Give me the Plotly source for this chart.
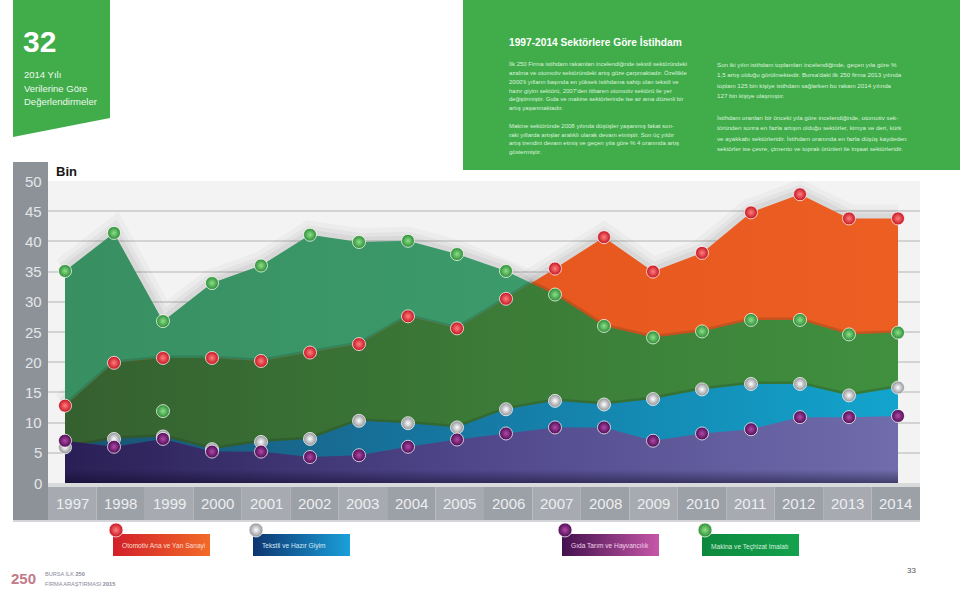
import plotly.graph_objects as go

# ---------------- data ----------------
years = list(range(1997, 2015))
otomotiv = [12.8, 19.9, 20.7, 20.7, 20.2, 21.6, 23.0, 27.6, 25.6, 30.5,
            35.5, 40.7, 35.0, 38.1, 44.8, 47.8, 43.8, 43.8]          # red balls
makina = [35.1, 41.4, 26.8, 33.1, 36.0, 41.1, 39.9, 40.1, 37.9, 35.1,
          31.2, 26.0, 24.1, 25.1, 27.0, 27.0, 24.6, 24.9]            # green balls
tekstil = [5.9, 7.3, 7.7, 5.6, 6.8, 7.3, 10.3, 9.9, 9.2, 12.2,
           13.6, 13.0, 13.9, 15.5, 16.4, 16.4, 14.5, 15.8]            # silver balls
gida = [7.0, 6.0, 7.3, 5.2, 5.2, 4.3, 4.6, 6.0, 7.2, 8.2,
        9.2, 9.2, 7.0, 8.2, 8.9, 10.9, 10.9, 11.1]                   # purple balls
makina_extra_years = [1999]
makina_extra_vals = [11.9]
y_ticks = [0, 5, 10, 15, 20, 25, 30, 35, 40, 45, 50]
legend_labels = ["Otomotiv Ana ve Yan Sanayi", "Tekstil ve Hazır Giyim",
                 "Gıda Tarım ve Hayvancılık", "Makina ve Teçhizat İmalatı"]

title = "1997-2014 Sektörlere Göre İstihdam"
col1 = ["İlk 250 Firma istihdam rakamları incelendiğinde tekstil sektöründeki",
        "azalma ve otomotiv sektöründeki artış göze çarpmaktadır. Özellikle",
        "2000'li yılların başında en yüksek istihdama sahip olan tekstil ve",
        "hazır giyim sektörü, 2007'den itibaren otomotiv sektörü ile yer",
        "değiştirmiştir. Gıda ve makine sektörlerinde ise az ama düzenli bir",
        "artış yaşanmaktadır.",
        "",
        "Makine sektöründe 2008 yılında düşüşler yaşanmış fakat son-",
        "raki yıllarda artışlar aralıklı olarak devam etmiştir. Son üç yıldır",
        "artış trendini devam etmiş ve geçen yıla göre % 4 oranında artış",
        "göstermiştir."]
col2 = ["Son iki yılın istihdam toplamları incelendiğinde, geçen yıla göre %",
        "1,5 artış olduğu görülmektedir. Bursa'daki ilk 250 firma 2013 yılında",
        "toplam 125 bin kişiye istihdam sağlarken bu rakam 2014 yılında",
        "127 bin kişiye ulaşmıştır.",
        "",
        "İstihdam oranları bir önceki yıla göre incelendiğinde, otomotiv sek-",
        "töründen sonra en fazla artışın olduğu sektörler, kimya ve deri, kürk",
        "ve ayakkabı sektörleridir. İstihdam oranında en fazla düşüş kaydeden",
        "sektörler ise çevre, çimento ve toprak ürünleri ile inşaat sektörleridir."]

# ---------------- geometry helpers ----------------
W, H = 960, 591
PL, PR, PT, PB = 48, 920, 181, 483
X0 = years[0] - 17 / 49.0
X1 = years[-1] + 22 / 49.0
SANS = "Liberation Sans, Arial, sans-serif"


def px(x):
    return x / W


def py(y):
    return 1 - y / H


def lower_envelope(xs, a, b):
    ox, oy = [], []
    for i in range(len(xs)):
        ox.append(xs[i]); oy.append(min(a[i], b[i]))
        if i < len(xs) - 1:
            d0, d1 = a[i] - b[i], a[i + 1] - b[i + 1]
            if d0 * d1 < 0:
                t = d0 / (d0 - d1)
                ox.append(xs[i] + t * (xs[i + 1] - xs[i]))
                oy.append(a[i] + t * (a[i + 1] - a[i]))
    return ox, oy


fig = go.Figure()

# shadows along top outlines
for series in (makina, otomotiv):
    for w, a in ((28, 0.03), (18, 0.045), (10, 0.055)):
        fig.add_trace(go.Scatter(x=years, y=series, mode="lines",
                                 line=dict(color=f"rgba(40,40,40,{a})", width=w),
                                 hoverinfo="skip", showlegend=False))

# teal area (green series)
fig.add_trace(go.Scatter(x=years, y=makina, mode="lines", fill="tozeroy",
                         line=dict(width=0, color="#3b9a6c"),
                         fillgradient=dict(type="horizontal", start=years[0], stop=years[-1],
                                           colorscale=[[0, "#388f62"], [1, "#3fa472"]]),
                         hoverinfo="skip", showlegend=False))
# orange area (red series)
fig.add_trace(go.Scatter(x=years, y=otomotiv, mode="lines", fill="tozeroy",
                         line=dict(width=0, color="#e8571f"),
                         fillgradient=dict(type="horizontal", start=years[0], stop=years[-1],
                                           colorscale=[[0, "#e0501c"], [1, "#ec5e22"]]),
                         hoverinfo="skip", showlegend=False))
# overlap area (dark green)
ex, ey = lower_envelope(years, otomotiv, makina)
fig.add_trace(go.Scatter(x=ex, y=ey, mode="lines", line=dict(width=5, color="rgba(30,50,30,0.18)"),
                         hoverinfo="skip", showlegend=False))
fig.add_trace(go.Scatter(x=ex, y=ey, mode="lines", fill="tozeroy",
                         line=dict(width=0, color="#3d7a38"),
                         fillgradient=dict(type="horizontal", start=years[0], stop=years[-1],
                                           colorscale=[[0, "#35602f"], [0.5, "#3b7a37"], [1, "#40903f"]]),
                         hoverinfo="skip", showlegend=False))
# blue area (tekstil)
fig.add_trace(go.Scatter(x=years, y=tekstil, mode="lines", line=dict(width=5, color="rgba(20,40,30,0.2)"),
                         hoverinfo="skip", showlegend=False))
fig.add_trace(go.Scatter(x=years, y=tekstil, mode="lines", fill="tozeroy",
                         line=dict(width=0, color="#1577a0"),
                         fillgradient=dict(type="horizontal", start=years[0], stop=years[-1],
                                           colorscale=[[0, "#1b5272"], [0.45, "#1676a0"], [1, "#12a4cd"]]),
                         hoverinfo="skip", showlegend=False))
# purple area (gida)
fig.add_trace(go.Scatter(x=years, y=gida, mode="lines", fill="tozeroy",
                         line=dict(width=0, color="#4f4688"),
                         fillgradient=dict(type="horizontal", start=years[0], stop=years[-1],
                                           colorscale=[[0, "#2a1f55"], [0.45, "#4d4487"], [1, "#706dac"]]),
                         hoverinfo="skip", showlegend=False))
# bottom darkening
fig.add_trace(go.Scatter(x=[years[0], years[-1], years[-1], years[0], years[0]],
                         y=[0, 0, 2.2, 2.2, 0], mode="lines", fill="toself",
                         line=dict(width=0, color="rgba(0,0,0,0)"),
                         fillgradient=dict(type="vertical", start=0, stop=2.2,
                                           colorscale=[[0, "rgba(10,5,30,0.45)"], [1, "rgba(10,5,30,0)"]]),
                         hoverinfo="skip", showlegend=False))

BALLS = {
    "red": ("#c4121f", "#ff8080"),
    "silver": ("#8e9196", "#ffffff"),
    "purple": ("#4c0b52", "#b24aa8"),
    "green": ("#2a8b33", "#8ee08a"),
}


def balls(x, y, key, xa="x", ya="y", size=13):
    edge, center = BALLS[key]
    return go.Scatter(x=x, y=y, mode="markers", xaxis=xa, yaxis=ya,
                      marker=dict(size=size, color=edge,
                                  gradient=dict(type="radial", color=center),
                                  line=dict(color="rgba(255,255,255,0.75)", width=1)),
                      hoverinfo="skip", showlegend=False)


fig.add_trace(balls(years, makina, "green"))
fig.add_trace(balls(makina_extra_years, makina_extra_vals, "green"))
fig.add_trace(balls(years, otomotiv, "red"))
fig.add_trace(balls(years, tekstil, "silver"))
fig.add_trace(balls(years, gida, "purple"))

# ---------------- legend boxes (pixel overlay axis) ----------------
leg_x = [113, 253, 562, 702]
leg_grad = [("#d21f2a", "#f26a28"), ("#0d3570", "#1aa0da"),
            ("#43104e", "#c657a8"), ("#0c883d", "#14a24d")]
leg_txt = ["#f8dccd", "#d6e8f5", "#f0d4ea", "#d2efdc"]
leg_ball = ["red", "silver", "purple", "green"]
BW, BY0, BY1 = 97, 534, 556
for i, lab in enumerate(legend_labels):
    x0 = leg_x[i]
    fig.add_trace(go.Scatter(x=[x0, x0 + BW, x0 + BW, x0, x0], y=[BY0, BY0, BY1, BY1, BY0],
                             xaxis="x2", yaxis="y2", mode="lines", fill="toself",
                             line=dict(width=0, color=leg_grad[i][0]),
                             fillgradient=dict(type="horizontal", start=x0, stop=x0 + BW,
                                               colorscale=[[0, leg_grad[i][0]], [1, leg_grad[i][1]]]),
                             hoverinfo="skip", showlegend=False))
    fig.add_trace(balls([x0 + 3], [530], leg_ball[i], "x2", "y2", 14))
    fig.add_annotation(x=x0 + 7, y=546, xref="x2", yref="y2", text=lab, showarrow=False,
                       xanchor="left", yanchor="middle",
                       font=dict(family=SANS, size=6.6, color=leg_txt[i]))

# ---------------- shapes ----------------
shapes = []
GREEN = "#40ad4a"
shapes.append(dict(type="path", xref="paper", yref="paper", layer="below",
                   path=f"M{px(13)},{py(0)} L{px(110)},{py(0)} L{px(110)},{py(118)} L{px(13)},{py(137)} Z",
                   fillcolor=GREEN, line=dict(width=0)))
shapes.append(dict(type="rect", xref="paper", yref="paper", layer="below",
                   x0=px(463), x1=px(960), y0=py(0), y1=py(170),
                   fillcolor=GREEN, line=dict(width=0)))
# plot background
shapes.append(dict(type="rect", xref="x domain", yref="y domain", layer="below",
                   x0=0, x1=1, y0=0, y1=1, fillcolor="#f3f3f3", line=dict(width=0)))
# y axis band
shapes.append(dict(type="rect", xref="paper", yref="paper", layer="below",
                   x0=px(13), x1=px(PL), y0=py(162), y1=py(520),
                   fillcolor="#8d9299", line=dict(width=0)))
# x axis band cells
CW = (PR - PL) / len(years)
for i, yr in enumerate(years):
    shapes.append(dict(type="rect", xref="paper", yref="paper", layer="below",
                       x0=px(PL + CW * i), x1=px(PL + CW * (i + 1)), y0=py(487), y1=py(520),
                       fillcolor="#a7abb1" if i % 2 == 0 else "#9ca0a7", line=dict(width=0)))
    fig.add_annotation(x=PL + CW * (i + 0.5), y=503.5, xref="x2", yref="y2", text=str(yr),
                       showarrow=False, xanchor="center", yanchor="middle",
                       font=dict(family=SANS, size=15, color="#eceef0"))
shapes.append(dict(type="rect", xref="paper", yref="paper", layer="below",
                   x0=px(PL), x1=px(PR), y0=py(483), y1=py(487),
                   fillcolor="#d9dadc", line=dict(width=0)))
shapes.append(dict(type="line", xref="paper", yref="paper", layer="below",
                   x0=px(13), x1=px(PR), y0=py(521), y1=py(521),
                   line=dict(color="#d6d6da", width=2)))

# y tick labels
for v in y_ticks:
    fig.add_annotation(x=PL - 4, y=PB - (PB - PT) * v / 50.0, xref="x2", yref="y2", text=str(v),
                       showarrow=False, xanchor="right", yanchor="middle",
                       font=dict(family=SANS, size=15, color="#e4e6e8"))

fig.add_annotation(x=54, y=171, xref="x2", yref="y2", text="<b>Bin</b>", showarrow=False,
                   xanchor="left", yanchor="middle", font=dict(family=SANS, size=13, color="#161616"))

# header texts
fig.add_annotation(x=21, y=41, xref="x2", yref="y2", text="<b>32</b>", showarrow=False,
                   xanchor="left", yanchor="middle", font=dict(family=SANS, size=30, color="white"))
for t, yy in zip(["2014 Yılı", "Verilerine Göre", "Değerlendirmeler"], [74, 88, 101]):
    fig.add_annotation(x=22, y=yy, xref="x2", yref="y2", text=t, showarrow=False,
                       xanchor="left", yanchor="middle", font=dict(family=SANS, size=9.5, color="#eef8ee"))
fig.add_annotation(x=507, y=42, xref="x2", yref="y2", text=f"<b>{title}</b>", showarrow=False,
                   xanchor="left", yanchor="middle", font=dict(family=SANS, size=10.2, color="white"))
col1_y = [64, 73, 82, 90.5, 99, 108, 117, 126, 134.5, 143, 152]
for t, yy in zip(col1, col1_y):
    if t:
        fig.add_annotation(x=507, y=yy, xref="x2", yref="y2", text=t, showarrow=False,
                           xanchor="left", yanchor="middle", font=dict(family=SANS, size=6.0, color="#dcf1dc"))
col2_y = [64, 74.5, 85, 95, 106, 117, 127.5, 138, 148]
for t, yy in zip(col2, col2_y):
    if t:
        fig.add_annotation(x=715, y=yy, xref="x2", yref="y2", text=t, showarrow=False,
                           xanchor="left", yanchor="middle", font=dict(family=SANS, size=6.2, color="#dcf1dc"))

# footer
fig.add_annotation(x=9, y=578, xref="x2", yref="y2", text="<b>250</b>", showarrow=False,
                   xanchor="left", yanchor="middle", font=dict(family=SANS, size=15, color="#c27a8a"))
fig.add_annotation(x=43, y=574, xref="x2", yref="y2", text="BURSA İLK <b>250</b>", showarrow=False,
                   xanchor="left", yanchor="middle", font=dict(family=SANS, size=5.6, color="#8a8a9a"))
fig.add_annotation(x=43, y=584, xref="x2", yref="y2", text="FİRMA ARAŞTIRMASI <b>2015</b>", showarrow=False,
                   xanchor="left", yanchor="middle", font=dict(family=SANS, size=5.6, color="#8a8a9a"))
fig.add_annotation(x=911, y=570, xref="x2", yref="y2", text="33", showarrow=False,
                   xanchor="center", yanchor="middle", font=dict(family=SANS, size=8, color="#555555"))

fig.update_layout(
    width=W, height=H, margin=dict(l=0, r=0, t=0, b=0),
    paper_bgcolor="white", plot_bgcolor="rgba(0,0,0,0)",
    showlegend=False, shapes=shapes,
    xaxis=dict(domain=[px(PL), px(PR)], range=[X0, X1], showgrid=False, zeroline=False,
               showticklabels=False, ticks="", fixedrange=True),
    yaxis=dict(domain=[py(PB), py(PT)], range=[0, 50], tickvals=y_ticks, showticklabels=False,
               showgrid=True, gridcolor="#d3d3d3", gridwidth=2, zeroline=False, ticks="", fixedrange=True),
    xaxis2=dict(domain=[0, 1], range=[0, W], visible=False, anchor="y2", fixedrange=True),
    yaxis2=dict(domain=[0, 1], range=[H, 0], visible=False, anchor="x2", fixedrange=True),
)

fig.write_html("out.html", config={"displayModeBar": False},
               post_script="document.body.style.margin='0px';document.body.style.overflow='hidden';")
